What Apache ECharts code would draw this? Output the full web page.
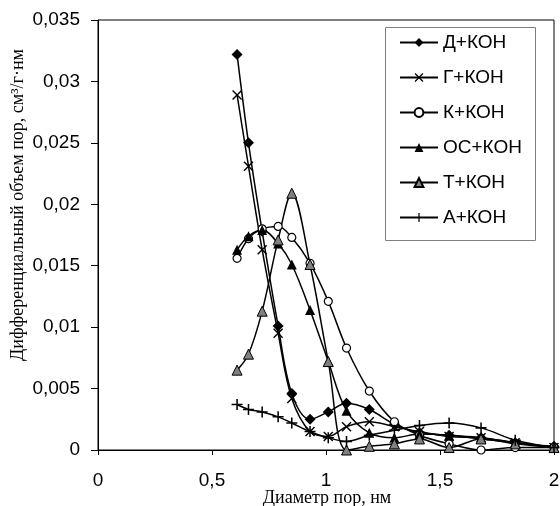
<!DOCTYPE html>
<html>
<head>
<meta charset="utf-8">
<script src="https://cdn.jsdelivr.net/npm/echarts@6/dist/echarts.min.js"></script>
<style>
html,body{margin:0;padding:0;background:#fff;}
#chart{width:560px;height:506px;}
</style>
</head>
<body>
<div id="chart"></div>
<script>
// Pore diameters, nm
const diameters = [0.61, 0.66, 0.72, 0.79, 0.85, 0.93, 1.01, 1.09, 1.19, 1.30, 1.41, 1.54, 1.68, 1.83, 2.0];
// Differential pore volume, cm3/(g*nm)
const seriesD  = [0.0322, 0.0250, 0.0178, 0.0101, 0.0046, 0.0025, 0.0031, 0.0038, 0.0033, 0.0021, 0.0014, 0.0012, 0.0010, 0.0006, 0.0003];
const seriesG  = [0.0289, 0.0231, 0.0163, 0.0095, 0.0042, 0.0015, 0.0011, 0.0019, 0.0023, 0.0019, 0.0015, 0.0011, 0.0010, 0.0006, 0.0002];
const seriesK  = [0.0156, 0.0172, 0.0180, 0.0182, 0.0173, 0.0152, 0.0121, 0.0083, 0.0048, 0.0023, 0.0012, 0.0005, 0.0000, 0.0002, 0.0002];
const seriesOS = [0.0163, 0.0174, 0.0179, 0.0168, 0.0151, 0.0114, 0.0072, 0.0032, 0.0014, 0.0010, 0.0013, 0.0012, 0.0009, 0.0006, 0.0002];
const seriesT  = [0.0065, 0.0078, 0.0113, 0.0171, 0.0209, 0.0151, 0.0072, 0.0000, 0.0003, 0.0005, 0.0009, 0.0002, 0.0009, 0.0005, 0.0002];
const seriesA  = [0.0037, 0.0033, 0.0031, 0.0027, 0.0022, 0.0015, 0.0010, 0.0007, 0.0012, 0.0016, 0.0020, 0.0022, 0.0018, 0.0008, 0.0002];
const seriesNames = ['Д+КОН', 'Г+КОН', 'К+КОН', 'ОС+КОН', 'Т+КОН', 'А+КОН'];
const xTicks = [0, 0.5, 1, 1.5, 2];
const yTicks = [0, 0.005, 0.01, 0.015, 0.02, 0.025, 0.03, 0.035];
const xTitle = 'Диаметр пор, нм';
const yTitle = 'Дифференциальный объем пор, см³/г·нм';

const PLUS = 'path://M4.3,0H5.7V4.3H10V5.7H5.7V10H4.3V5.7H0V4.3H4.3Z';
const CROSS = 'path://M0,1L1,0L5,4L9,0L10,1L6,5L10,9L9,10L5,6L1,10L0,9L4,5Z';

function pairs(ys){ return diameters.map((x,i)=>[x, ys[i]]); }
function fmt(v){ return String(+(+v).toFixed(3)).replace('.', ','); }

const styles = [
  {data: seriesD,  symbol: 'diamond',  size: 11, item: {color:'#000'}},
  {data: seriesG,  symbol: CROSS,      size: 10, item: {color:'#000'}},
  {data: seriesK,  symbol: 'circle',   size: 8,  item: {color:'#fff', borderColor:'#000', borderWidth:1.2}},
  {data: seriesOS, symbol: 'triangle', size: 10, item: {color:'#000'}},
  {data: seriesT,  symbol: 'triangle', size: 10, item: {color:'#808080', borderColor:'#000', borderWidth:1}},
  {data: seriesA,  symbol: PLUS,       size: 11, item: {color:'#000'}}
];

const chart = echarts.init(document.getElementById('chart'), null, {renderer:'canvas'});
chart.setOption({
  animation: false,
  backgroundColor: '#fff',
  grid: {left: 98, right: 6, top: 20, bottom: 56, show: true, borderColor: '#000', borderWidth: 1,
         containLabel: false, outerBoundsMode: 'none'},
  xAxis: {
    type: 'value', min: xTicks[0], max: xTicks[xTicks.length-1], interval: 0.5,
    axisLine: {show: true, lineStyle: {color:'#000', width:1}},
    axisTick: {show: true, length: 5, lineStyle: {color:'#000'}},
    splitLine: {show: false},
    axisLabel: {color:'#000', fontFamily:'Liberation Sans, Arial', fontSize: 19, margin: 21, formatter: fmt}
  },
  yAxis: {
    type: 'value', min: yTicks[0], max: yTicks[yTicks.length-1], interval: 0.005,
    axisLine: {show: true, lineStyle: {color:'#000', width:1}},
    axisTick: {show: true, length: 7, lineStyle: {color:'#000'}},
    splitLine: {show: false},
    axisLabel: {color:'#000', fontFamily:'Liberation Sans, Arial', fontSize: 19, margin: 18, formatter: fmt}
  },
  legend: {
    orient: 'vertical', left: 399, top: 33, padding: 0,
    itemWidth: 38, itemHeight: 11, itemGap: 16,
    textStyle: {color:'#000', fontFamily:'Liberation Sans, Arial', fontSize: 19},
    data: seriesNames
  },
  graphic: [
    {type:'rect', shape:{x:385.5, y:27.5, width:150, height:213}, style:{fill:'#fff', stroke:'#808080', lineWidth:1}, z: -1, zlevel: 0},
    {type:'text', x: 18, y: 205, rotation: Math.PI/2,
     style:{text: yTitle, fill:'#000', font:'18px "Liberation Serif", "Times New Roman", serif', textAlign:'center', textVerticalAlign:'middle'}},
    {type:'text', x: 327, y: 498,
     style:{text: xTitle, fill:'#000', font:'18px "Liberation Serif", "Times New Roman", serif', textAlign:'center', textVerticalAlign:'middle'}}
  ],
  series: styles.map((s, i) => ({
    name: seriesNames[i], type: 'line', data: pairs(s.data), smooth: 0.35,
    symbol: s.symbol, symbolSize: s.size, showAllSymbol: true,
    lineStyle: {color:'#000', width: 1.5},
    itemStyle: s.item,
    emphasis: {disabled: true}
  }))
});
</script>
</body>
</html>
